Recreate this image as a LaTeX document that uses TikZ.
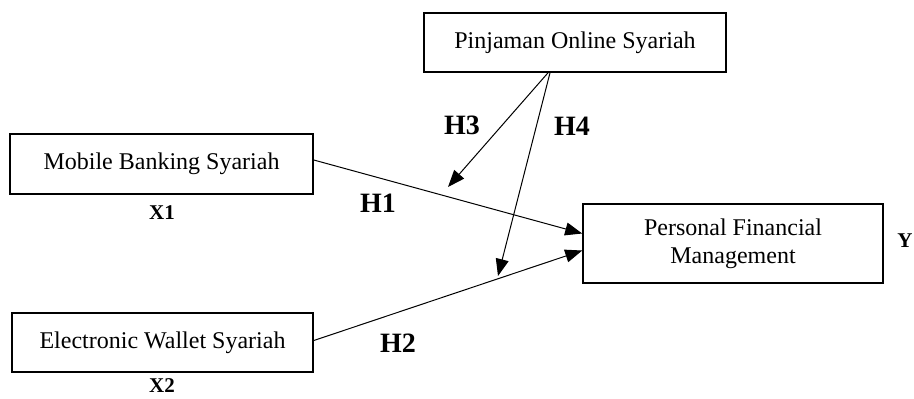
\documentclass[tikz,border=0pt]{standalone}
\usepackage{fontspec}
\setmainfont{Liberation Serif}
\usetikzlibrary{calc,arrows.meta}
\tikzset{
	varbox/.style = {draw, line width=0.8pt, inner sep=0pt, align=center,
		font=\fontsize{12}{14}\selectfont},
	hyp/.style = {font=\fontsize{14}{16}\selectfont\bfseries},
	varlab/.style = {font=\fontsize{10.5}{13}\selectfont\bfseries},
	link/.style = {line width=0.5pt, -{Triangle[length=8.5pt,width=6.5pt]}}
}

\begin{document}
\begin{tikzpicture}[x=0.5pt,y=-0.5pt]
	\useasboundingbox (0,0) rectangle (914,398);
	\node[varbox, minimum width=151pt, minimum height=29.5pt] (pinjol) at (575,42.5) {Pinjaman Online Syariah};
	\node[varbox, minimum width=151.5pt, minimum height=30pt] (mobile) at (161.5,164) {Mobile Banking Syariah};
	\node[varbox, minimum width=150.5pt, minimum height=29.5pt] (ewallet) at (162.5,342.5) {Electronic Wallet Syariah};
	\node[varbox, minimum width=150pt, minimum height=39.5pt] (pfm) at (733,243.5) {Personal Financial\\Management};

	\node[varlab] (x1) at (162,213) {X1};
	\node[varlab] (x2) at (162,386) {X2};
	\node[varlab] (y) at (905,241) {Y};

	\coordinate (m1) at (448,187);
	\coordinate (m2) at (498,276);

	\draw[link] ($(mobile.east)+(0,-4)$) -- ($(pfm.west)+(0,-10)$);
	\draw[link] ($(ewallet.east)+(0,-2)$) -- ($(pfm.west)+(0,7)$);
	\draw[link] ($(pinjol.south)+(-27,0)$) -- (m1);
	\draw[link] ($(pinjol.south)+(-25,0)$) -- (m2);

	\node[hyp] (h1) at (378,203) {H1};
	\node[hyp] (h2) at (398,343) {H2};
	\node[hyp] (h3) at (462,125) {H3};
	\node[hyp] (h4) at (572,126) {H4};
\end{tikzpicture}
\end{document}
